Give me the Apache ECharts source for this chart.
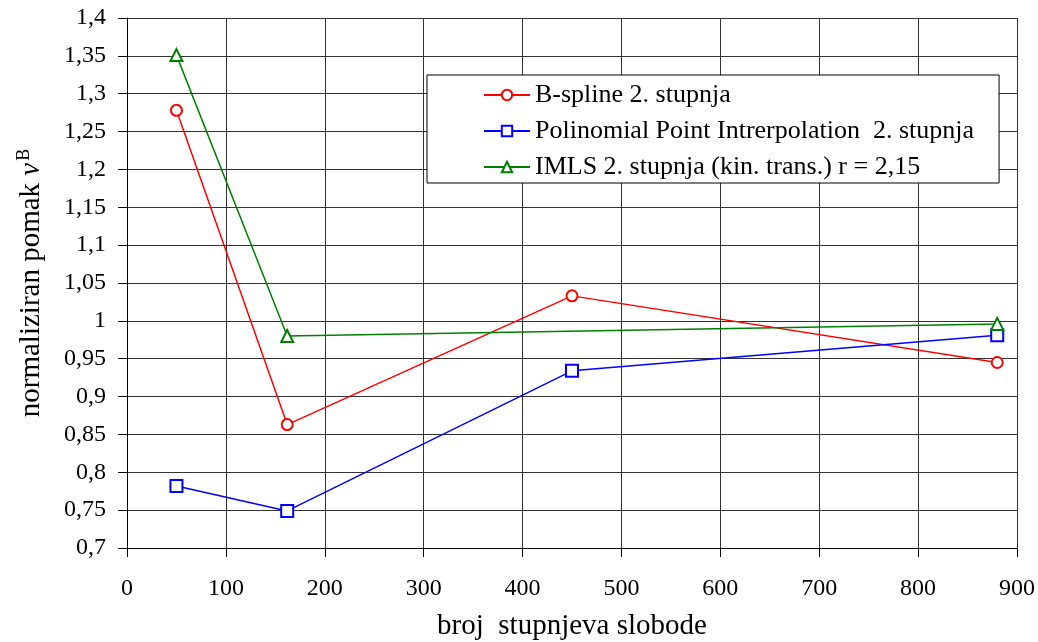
<!DOCTYPE html>
<html>
<head>
<meta charset="utf-8">
<script src="https://cdn.jsdelivr.net/npm/echarts@6/dist/echarts.min.js"></script>
<style>html,body{margin:0;padding:0;background:#fff;}#c{width:1038px;height:642px;}</style>
</head>
<body>
<div id="c"></div>
<script>
var seriesNames = ['B-spline 2. stupnja', 'Polinomial Point Intrerpolation  2. stupnja', 'IMLS 2. stupnja (kin. trans.) r = 2,15'];
var xBspline = [50, 162, 450, 880];
var yBspline = [1.278, 0.863, 1.033, 0.945];
var xPPI = [50, 162, 450, 880];
var yPPI = [0.782, 0.749, 0.934, 0.981];
var xIMLS = [50, 162, 880];
var yIMLS = [1.351, 0.980, 0.996];
var xAxisTitle = 'broj  stupnjeva slobode';

function pairs(xs, ys) { return xs.map(function (x, i) { return [x, ys[i]]; }); }
var font = '"Liberation Serif", "Times New Roman", serif';
var chart = echarts.init(document.getElementById('c'), null, {renderer: 'canvas'});
chart.setOption({
  animation: false,
  backgroundColor: '#fff',
  textStyle: {fontFamily: font},
  grid: {left: 127, right: 21, top: 18, bottom: 94, containLabel: false, outerBoundsMode: 'none'},
  legend: {
    orient: 'vertical',
    left: 427, top: 75,
    padding: [7, 25, 3, 56],
    itemGap: 10,
    itemWidth: 46, itemHeight: 13,
    backgroundColor: '#fff',
    borderColor: '#000', borderWidth: 1,
    textStyle: {fontFamily: font, fontSize: 26, color: '#000'},
    data: seriesNames
  },
  xAxis: {
    type: 'value', min: 0, max: 900, interval: 100,
    name: xAxisTitle, nameLocation: 'middle', nameGap: 64,
    nameTextStyle: {fontFamily: font, fontSize: 29, color: '#000'},
    axisLine: {onZero: false, lineStyle: {color: '#000', width: 1}},
    axisTick: {show: true, length: 9, inside: false, lineStyle: {color: '#000'}},
    axisLabel: {fontFamily: font, fontSize: 24, color: '#000', margin: 29},
    splitLine: {show: true, lineStyle: {color: '#333', width: 1}}
  },
  yAxis: {
    type: 'value', min: 0.7, max: 1.4, interval: 0.05,
    name: '{n|normaliziran pomak }{v|v}{s|B}', nameLocation: 'middle', nameGap: 80, nameRotate: 90,
    nameTextStyle: {
      fontFamily: font, fontSize: 29, color: '#000',
      rich: {
        n: {fontFamily: font, fontSize: 29, color: '#000'},
        v: {fontFamily: font, fontSize: 29, fontStyle: 'italic', color: '#000'},
        s: {fontFamily: font, fontSize: 18, color: '#000', verticalAlign: 'top', padding: [0, 0, 14, 2]}
      }
    },
    axisLine: {show: true, lineStyle: {color: '#000', width: 1}},
    axisTick: {show: true, length: 9, inside: false, lineStyle: {color: '#000'}},
    axisLabel: {
      fontFamily: font, fontSize: 24, color: '#000', margin: 21,
      formatter: function (v) { return String(Math.round(v * 100) / 100).replace('.', ','); }
    },
    splitLine: {show: true, lineStyle: {color: '#333', width: 1}}
  },
  series: [
    {name: seriesNames[0], type: 'line', data: pairs(xBspline, yBspline), symbol: 'emptyCircle', symbolSize: 11,
     color: '#ff0000', lineStyle: {width: 1.5, color: '#ff0000'}, itemStyle: {color: '#ff0000', borderWidth: 1.5}},
    {name: seriesNames[1], type: 'line', data: pairs(xPPI, yPPI), symbol: 'emptyRect', symbolSize: 12,
     color: '#0000ff', lineStyle: {width: 1.5, color: '#0000ff'}, itemStyle: {color: '#0000ff', borderWidth: 1.5}},
    {name: seriesNames[2], type: 'line', data: pairs(xIMLS, yIMLS), symbol: 'emptyTriangle', symbolSize: 12,
     color: '#008000', lineStyle: {width: 1.5, color: '#008000'}, itemStyle: {color: '#008000', borderWidth: 1.5}}
  ]
});
</script>
</body>
</html>
